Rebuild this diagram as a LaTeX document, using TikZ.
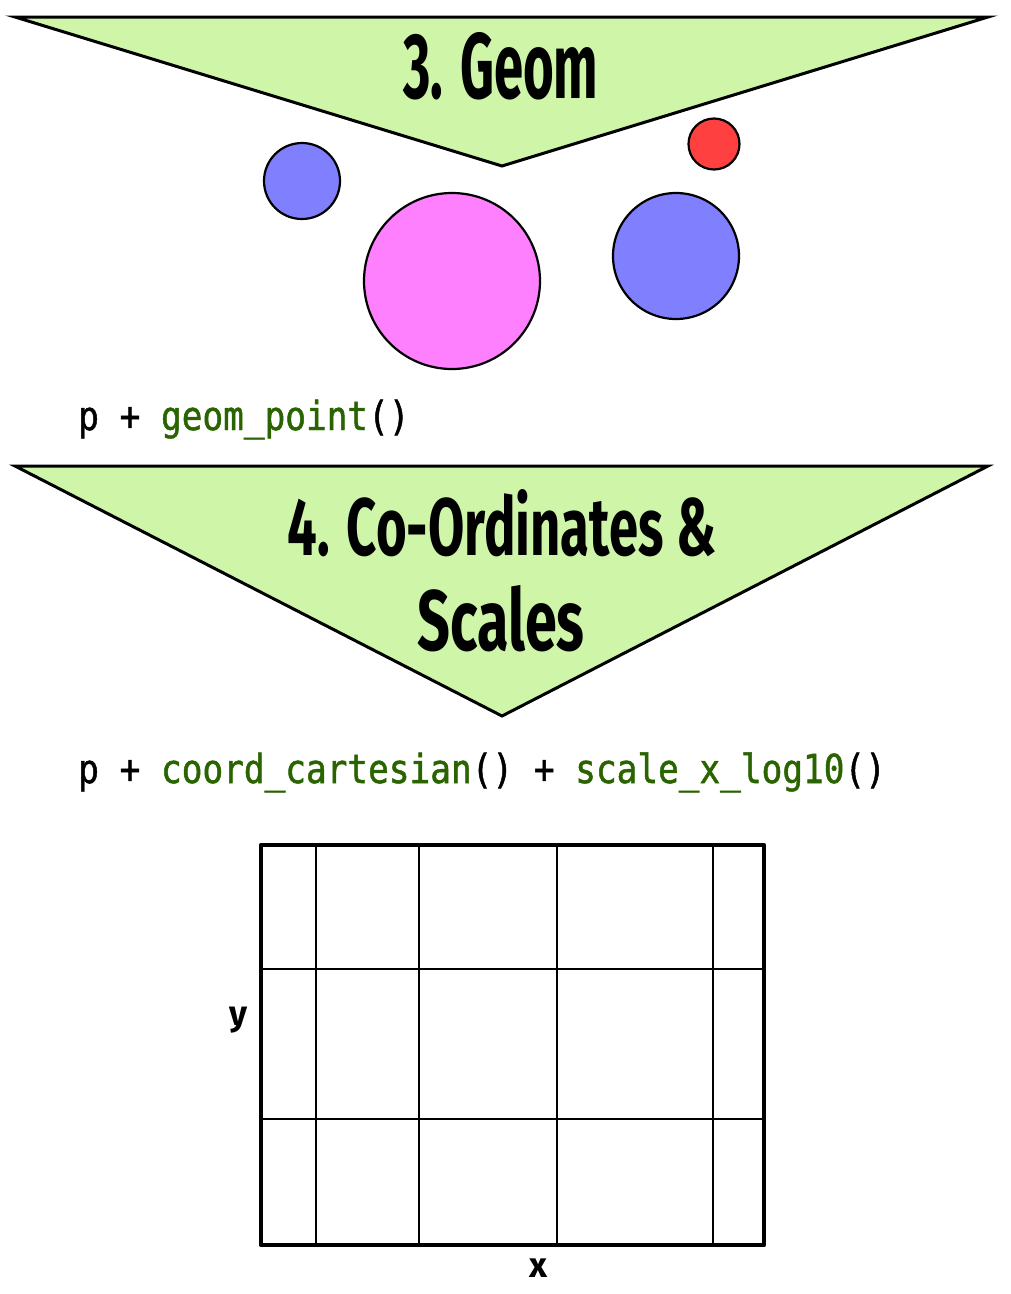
\documentclass[tikz,border=0pt]{standalone}
\usepackage{fontspec}
\usepackage{graphicx}
\newfontfamily\titlefont{Fira Sans}[BoldFont=* Bold]
\newfontfamily\codefont[FakeStretch=0.86,FakeBold=1.2]{DejaVu Sans Mono}
\definecolor{tri}{HTML}{CEF5A8}
\definecolor{codegreen}{HTML}{2A6400}
\definecolor{ptblue}{HTML}{8080FF}
\definecolor{ptpink}{HTML}{FF80FF}
\definecolor{ptred}{HTML}{FF4040}
\tikzset{
  banner/.style={fill=tri, draw=black, line width=3pt, line join=miter},
  pt/.style={circle, draw=black, line width=2.2pt, inner sep=0pt},
  ttl/.style={inner sep=0pt, anchor=base},
  code/.style={inner sep=0pt, anchor=base west, font=\codefont\fontsize{40}{48}\selectfont},
  gridline/.style={line width=2.2pt},
  axlab/.style={inner sep=0pt, anchor=base}
}
\newcommand{\fn}[1]{\textcolor{codegreen}{#1}}
\begin{document}
\begin{tikzpicture}[x=1pt,y=-1pt]
\useasboundingbox (0,0) rectangle (1011,1294);
% banner 3
\draw[banner] (15,17) coordinate (b1l) -- (988,17) coordinate (b1r) -- (502,166) coordinate (b1a) -- cycle;
\node[ttl] (t1) at (501,98) {\resizebox{195pt}{66pt}{\titlefont\bfseries 3. Geom}};
% points
\node[pt, fill=ptblue, minimum size=76pt] (c1) at (302,181) {};
\node[pt, fill=ptpink, minimum size=176pt] (c2) at (452,281) {};
\node[pt, fill=ptblue, minimum size=126pt] (c3) at (676,256) {};
\node[pt, fill=ptred, minimum size=51pt] (c4) at (714,144) {};
% code 1
\node[code] (code1) at (78,430) {p + \fn{geom\_point}()};
% banner 4
\draw[banner] (15,466) coordinate (b2l) -- (988,466) coordinate (b2r) -- (502,716) coordinate (b2a) -- cycle;
\node[ttl] (t2a) at (502,555) {\resizebox{428pt}{66pt}{\titlefont\bfseries 4. Co-Ordinates \&}};
\node[ttl] (t2b) at (501,650) {\resizebox{167pt}{65pt}{\titlefont\bfseries Scales}};
% code 2
\node[code] (code2) at (78,783) {p + \fn{coord\_cartesian}() + \fn{scale\_x\_log10}()};
% grid
\foreach \gx in {316,419,557,713} \draw[gridline] (\gx,845) -- (\gx,1245);
\foreach \gy in {969,1119} \draw[gridline] (261,\gy) -- (764,\gy);
\draw[line width=4.5pt, line join=round] (261,845) rectangle (764,1245);
\node[draw=none, inner sep=0pt, minimum width=503pt, minimum height=400pt] (grid) at (512.5,1045) {};
\node[axlab] (ylab) at (238,1025) {\resizebox{18pt}{!}{\titlefont\bfseries\fontsize{40}{44}\selectfont y}};
\node[axlab] (xlab) at (538,1277) {\resizebox{18pt}{!}{\titlefont\bfseries\fontsize{40}{44}\selectfont x}};
\end{tikzpicture}
\end{document}
